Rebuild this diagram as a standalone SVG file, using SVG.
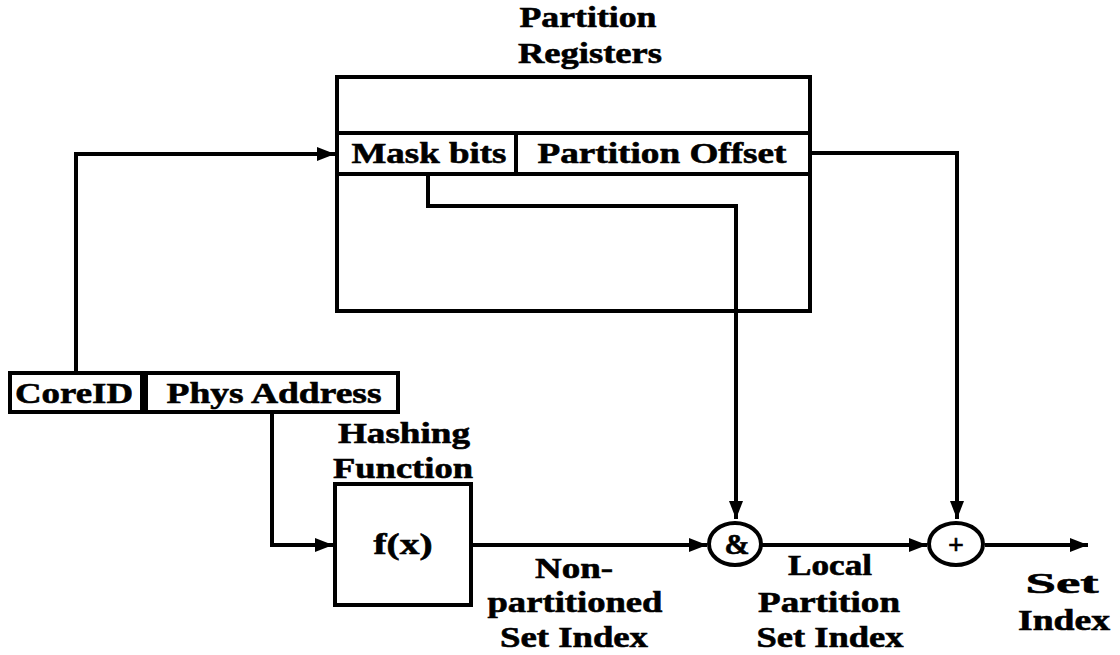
<svg xmlns="http://www.w3.org/2000/svg" width="1120" height="655" viewBox="0 0 1120 655">
<style>
.box{fill:none;stroke:#000;stroke-width:4}
.ln{fill:none;stroke:#000;stroke-width:4}
.t{font-family:"Liberation Serif","Times New Roman",serif;font-weight:bold;font-size:30px;fill:#000;stroke:#000;stroke-width:0.6;text-anchor:middle}
</style>
<defs>
<marker id="arr" viewBox="0 0 18 14" refX="18" refY="7" markerWidth="18" markerHeight="14" markerUnits="userSpaceOnUse" orient="auto">
<path d="M0,0 L18,7 L0,14 z" fill="#000"/>
</marker>
</defs>
<rect width="1120" height="655" fill="#fff"/>
<g id="connectors">
<polyline class="ln" points="76,373 76,154 335,154" marker-end="url(#arr)"/>
<polyline class="ln" points="272,412 272,545 333,545" marker-end="url(#arr)"/>
<polyline class="ln" points="428,174 428,206 736,206 736,519" marker-end="url(#arr)"/>
<polyline class="ln" points="810,153 957,153 957,519" marker-end="url(#arr)"/>
<line class="ln" x1="471" y1="545" x2="707" y2="545" marker-end="url(#arr)"/>
<line class="ln" x1="762" y1="545" x2="927" y2="545" marker-end="url(#arr)"/>
<line class="ln" x1="985" y1="545" x2="1088" y2="545" marker-end="url(#arr)"/>
</g>
<g id="partition-registers">
<rect class="box" x="337" y="77" width="473" height="234"/>
<line class="ln" x1="337" y1="133" x2="810" y2="133"/>
<line class="ln" x1="337" y1="174" x2="810" y2="174"/>
<line class="ln" x1="516" y1="133" x2="516" y2="174"/>
<text class="t" x="588" y="27" textLength="137" lengthAdjust="spacingAndGlyphs">Partition</text>
<text class="t" x="590" y="63" textLength="144" lengthAdjust="spacingAndGlyphs">Registers</text>
</g>
<g id="mask-bits">
<text class="t" x="429" y="163" textLength="155" lengthAdjust="spacingAndGlyphs">Mask bits</text>
</g>
<g id="partition-offset">
<text class="t" x="662" y="163" textLength="249" lengthAdjust="spacingAndGlyphs">Partition Offset</text>
</g>
<g id="coreid">
<rect class="box" x="10" y="373" width="132" height="39"/>
<text class="t" x="74" y="403" textLength="118" lengthAdjust="spacingAndGlyphs">CoreID</text>
</g>
<g id="phys-address">
<rect class="box" x="146" y="373" width="252" height="39"/>
<text class="t" x="274" y="403" textLength="215" lengthAdjust="spacingAndGlyphs">Phys Address</text>
</g>
<g id="hashing-function">
<rect class="box" x="335" y="484" width="136" height="121"/>
<text class="t" x="404" y="443" textLength="132" lengthAdjust="spacingAndGlyphs">Hashing</text>
<text class="t" x="403" y="478" textLength="140" lengthAdjust="spacingAndGlyphs">Function</text>
<text class="t" x="403" y="554" textLength="59" lengthAdjust="spacingAndGlyphs">f(x)</text>
</g>
<g id="and-op">
<ellipse class="box" cx="735" cy="544" rx="26" ry="21"/>
<text class="t" x="737" y="554">&amp;</text>
</g>
<g id="add-op">
<ellipse class="box" cx="956" cy="544" rx="27" ry="21"/>
<text class="t" x="956" y="554" style="font-size:28px">+</text>
</g>
<g id="labels">
<text class="t" x="574" y="578" textLength="78" lengthAdjust="spacingAndGlyphs">Non-</text>
<text class="t" x="575" y="612" textLength="175" lengthAdjust="spacingAndGlyphs">partitioned</text>
<text class="t" x="574" y="647" textLength="148" lengthAdjust="spacingAndGlyphs">Set Index</text>
<text class="t" x="830" y="575" textLength="84" lengthAdjust="spacingAndGlyphs">Local</text>
<text class="t" x="829" y="612" textLength="142" lengthAdjust="spacingAndGlyphs">Partition</text>
<text class="t" x="830" y="647" textLength="147" lengthAdjust="spacingAndGlyphs">Set Index</text>
<text class="t" x="1062" y="593" textLength="73" lengthAdjust="spacingAndGlyphs">Set</text>
<text class="t" x="1064" y="630" textLength="92" lengthAdjust="spacingAndGlyphs">Index</text>
</g>
</svg>
